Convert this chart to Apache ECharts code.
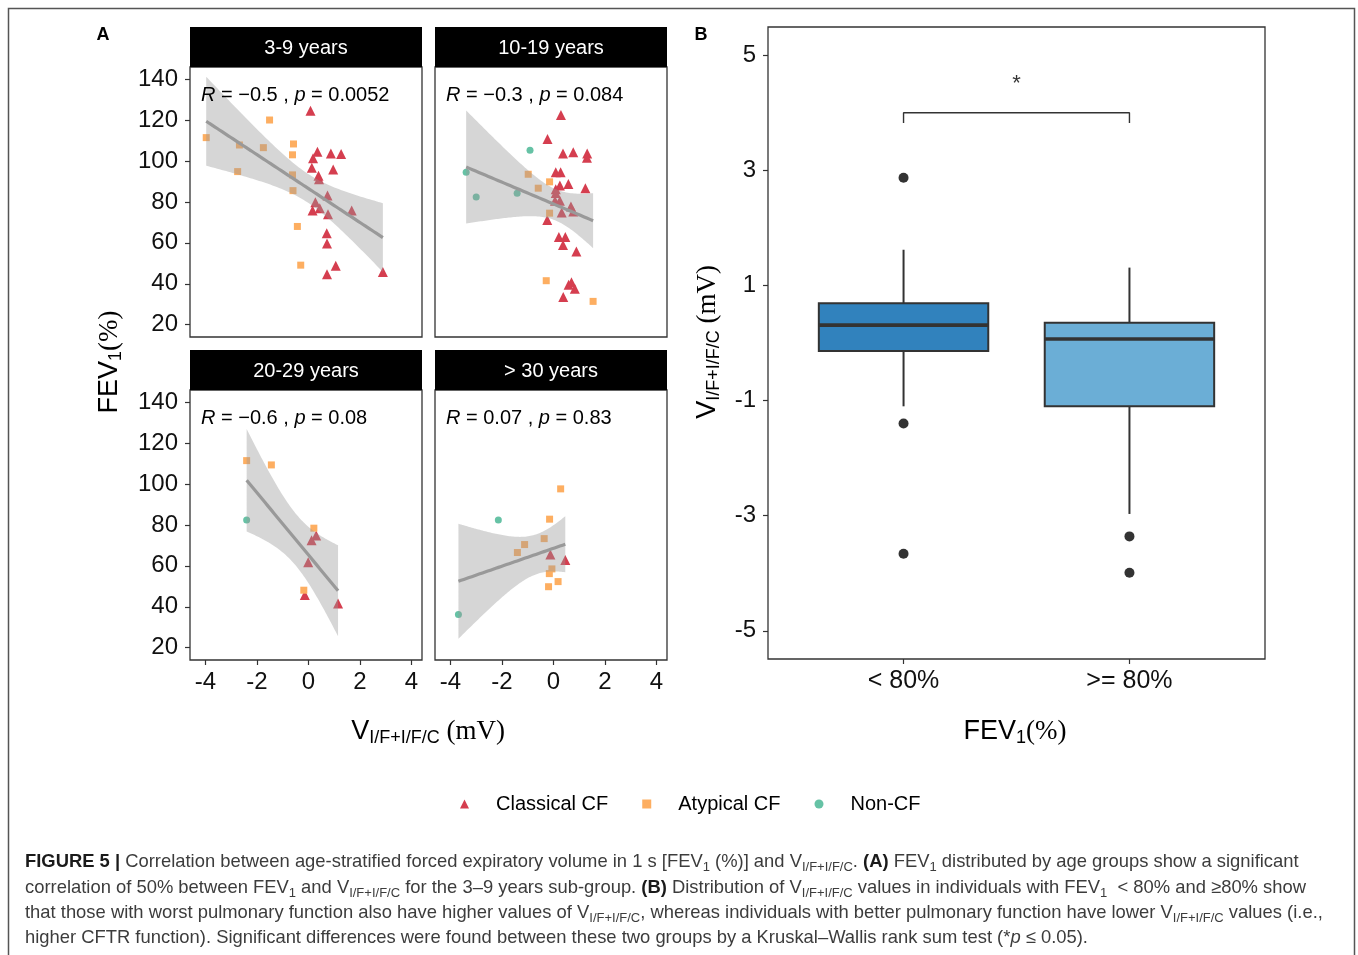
<!DOCTYPE html>
<html>
<head>
<meta charset="utf-8">
<script src="https://cdn.jsdelivr.net/npm/echarts@6/dist/echarts.min.js"></script>
<style>
html, body { margin: 0; padding: 0; background: #fff; }
#main { width: 1358px; height: 955px; }
</style>
</head>
<body>
<div id="main"></div>
<script>
// ---- data ----
const xTicks = [-4, -2, 0, 2, 4];
const yTicks = [20, 40, 60, 80, 100, 120, 140];
const panelNames = ['3-9 years', '10-19 years', '20-29 years', '> 30 years'];
const panelR = ['\u22120.5', '\u22120.3', '\u22120.6', '0.07'];
const panelP = ['0.0052', '0.084', '0.08', '0.83'];
const groupNames = ['Classical CF', 'Atypical CF', 'Non-CF'];

// [V I/F+I/F/C (mV), FEV1 (%)]
const classical_3_9 = [[0.08, 124.5], [0.35, 104.5], [0.87, 103.7], [1.27, 103.4], [0.18, 101.3], [0.13, 96.7], [0.96, 95.8], [0.39, 92.8], [0.41, 91.1], [0.74, 83.1], [0.27, 79.8], [0.44, 76.9], [0.16, 75.8], [0.76, 74.0], [1.68, 75.8], [0.71, 64.7], [0.72, 59.7], [1.06, 48.8], [0.72, 44.7], [2.89, 45.7]];
const atypical_3_9 = [[-1.51, 120.0], [-3.97, 111.4], [-2.68, 107.8], [-1.75, 106.5], [-0.58, 108.3], [-0.62, 103.0], [-2.75, 94.8], [-0.62, 93.2], [-0.60, 85.5], [-0.43, 68.0], [-0.30, 49.1]];
const nonCF_3_9 = [];

const classical_10_19 = [[0.29, 122.4], [-0.23, 110.7], [0.37, 103.7], [0.77, 104.2], [1.31, 103.7], [1.30, 101.6], [0.09, 94.5], [0.28, 94.5], [0.58, 88.8], [0.25, 88.0], [0.09, 86.2], [1.24, 86.7], [0.09, 84.4], [0.06, 80.6], [0.25, 80.6], [0.68, 77.7], [0.32, 74.8], [0.77, 75.3], [-0.24, 71.1], [0.21, 62.9], [0.46, 62.9], [0.37, 59.0], [0.89, 55.8], [0.59, 39.5], [0.70, 40.8], [0.83, 37.6], [0.38, 33.5]];
const atypical_10_19 = [[-0.98, 93.5], [-0.15, 89.8], [-0.59, 86.7], [-0.15, 74.5], [-0.28, 41.5], [1.54, 31.4]];
const nonCF_10_19 = [[-0.91, 105.2], [-3.39, 94.5], [-3.00, 82.4], [-1.41, 84.2]];

const classical_20_29 = [[0.30, 74.8], [0.12, 72.5], [-0.01, 61.8], [-0.14, 45.7], [1.15, 41.6]];
const atypical_20_29 = [[-2.40, 111.4], [-1.44, 109.3], [0.21, 78.4], [-0.18, 48.1]];
const nonCF_20_29 = [[-2.40, 82.4]];

const classical_30 = [[-0.12, 65.5], [0.46, 62.8]];
const atypical_30 = [[0.28, 97.6], [-0.15, 82.8], [-0.36, 73.3], [-1.12, 70.4], [-1.40, 66.5], [-0.06, 58.5], [-0.16, 56.2], [0.18, 52.3], [-0.19, 49.8]];
const nonCF_30 = [[-2.14, 82.4], [-3.69, 36.2]];

// panel B: [lower whisker, Q1, median, Q3, upper whisker]
const boxCategories = ['< 80%', '>= 80%'];
const boxStats = [[-1.10, -0.14, 0.31, 0.69, 1.62], [-2.97, -1.10, 0.07, 0.35, 1.31]];
const boxOutliers = [[2.87, -1.40, -3.66], [-3.36, -3.99]];
const boxTicks = [-5, -3, -1, 1, 3, 5];

// ---- styling ----
const SANS = 'Liberation Sans, Arial, Helvetica, sans-serif';
const SERIF = 'Liberation Serif, Times New Roman, serif';
const groupColors = ['#D53E4F', '#FDAE61', '#66C2A5'];
const groupSymbols = ['triangle', 'rect', 'circle'];
const groupSizes = [10, 7, 7];
const boxColors = ['#3182BD', '#6BAED6'];

const panels = [
  [classical_3_9, atypical_3_9, nonCF_3_9],
  [classical_10_19, atypical_10_19, nonCF_10_19],
  [classical_20_29, atypical_20_29, nonCF_20_29],
  [classical_30, atypical_30, nonCF_30]
];
const panelPos = [[190, 67], [435, 67], [190, 390], [435, 390]];

// t quantile (97.5%) by Cornish-Fisher expansion
function tQuantile975 (df) {
  const z = 1.959964;
  const g1 = (z ** 3 + z) / 4;
  const g2 = (5 * z ** 5 + 16 * z ** 3 + 3 * z) / 96;
  const g3 = (3 * z ** 7 + 19 * z ** 5 + 17 * z ** 3 - 15 * z) / 384;
  return z + g1 / df + g2 / df ** 2 + g3 / df ** 3;
}

// linear fit with 95% confidence band, like geom_smooth(method = 'lm')
function fitLm (points) {
  const n = points.length;
  let mx = 0, my = 0;
  points.forEach(p => { mx += p[0]; my += p[1] });
  mx /= n; my /= n;
  let sxx = 0, sxy = 0;
  points.forEach(p => { sxx += (p[0] - mx) ** 2; sxy += (p[0] - mx) * (p[1] - my) });
  const b = sxy / sxx;
  const a = my - b * mx;
  let sse = 0;
  points.forEach(p => { sse += (p[1] - a - b * p[0]) ** 2 });
  const s = Math.sqrt(sse / (n - 2));
  const t = tQuantile975(n - 2);
  const xs = points.map(p => p[0]);
  const x0 = Math.min(...xs), x1 = Math.max(...xs);
  const line = [], upper = [], lower = [];
  for (let i = 0; i <= 80; i++) {
    const x = x0 + (x1 - x0) * i / 80;
    const y = a + b * x;
    const se = s * Math.sqrt(1 / n + (x - mx) ** 2 / sxx);
    line.push([x, y]);
    upper.push([x, y + t * se]);
    lower.push([x, y - t * se]);
  }
  return { line, upper, lower };
}

const grid = [], xAxis = [], yAxis = [], series = [], graphic = [];
const tickStyle = { color: '#333', width: 1.2 };

panels.forEach((groups, i) => {
  const bottom = i >= 2;
  const left = i % 2 === 0;
  grid.push({ left: panelPos[i][0], top: panelPos[i][1], width: 232, height: 270, show: true, borderColor: '#333', borderWidth: 1.3, backgroundColor: '#fff', outerBoundsMode: 'none' });
  xAxis.push({
    gridIndex: i, type: 'value', min: -4.6, max: 4.41,
    axisLine: { show: false, onZero: false }, splitLine: { show: false },
    axisTick: { show: bottom, customValues: xTicks, length: 5, lineStyle: tickStyle },
    axisLabel: { show: bottom, customValues: xTicks, fontSize: 24, fontFamily: SANS, color: '#111', margin: 10 }
  });
  yAxis.push({
    gridIndex: i, type: 'value', min: 14, max: 145.9,
    axisLine: { show: false, onZero: false }, splitLine: { show: false },
    axisTick: { show: left, customValues: yTicks, length: 5, lineStyle: tickStyle },
    axisLabel: { show: left, customValues: yTicks, fontSize: 24, fontFamily: SANS, color: '#111', margin: 12 }
  });
  groups.forEach((pts, g) => {
    series.push({
      type: 'scatter', name: groupNames[g], xAxisIndex: i, yAxisIndex: i, data: pts,
      symbol: groupSymbols[g], symbolSize: groupSizes[g], itemStyle: { color: groupColors[g], opacity: 1 },
      z: 2, silent: true
    });
  });
  const fit = fitLm([].concat(...groups));
  series.push({
    type: 'custom', xAxisIndex: i, yAxisIndex: i, clip: true, z: 3, silent: true,
    data: [[0, 80]],
    renderItem: (params, api) => {
      const pts = fit.upper.concat(fit.lower.slice().reverse()).map(p => api.coord(p));
      return { type: 'polygon', shape: { points: pts }, style: { fill: 'rgba(153,153,153,0.4)' } };
    }
  });
  series.push({
    type: 'line', xAxisIndex: i, yAxisIndex: i, data: fit.line, symbol: 'none',
    lineStyle: { color: '#999', width: 3.2 }, z: 4, silent: true
  });

  // facet strip and correlation text
  graphic.push({ type: 'rect', shape: { x: panelPos[i][0], y: panelPos[i][1] - 40, width: 232, height: 40 }, style: { fill: '#000' } });
  graphic.push({ type: 'text', x: panelPos[i][0] + 116, y: panelPos[i][1] - 19, style: { text: panelNames[i], fontSize: 20, fontFamily: SANS, fill: '#fff', align: 'center', verticalAlign: 'middle' } });
  graphic.push({
    type: 'text', x: panelPos[i][0] + 11, y: panelPos[i][1] + 28, z: 10,
    style: {
      text: '{i|R}{n| = ' + panelR[i] + ' , }{i|p}{n| = ' + panelP[i] + '}',
      fontSize: 20, fontFamily: SANS, fill: '#000', align: 'left', verticalAlign: 'middle',
      rich: {
        i: { fontSize: 20, fontFamily: SANS, fontStyle: 'italic', fill: '#000' },
        n: { fontSize: 20, fontFamily: SANS, fill: '#000' }
      }
    }
  });
});

// ---- panel B ----
const bIdx = 4;
grid.push({ left: 768, top: 27, width: 497, height: 632, show: true, borderColor: '#333', borderWidth: 1.3, outerBoundsMode: 'none' });
xAxis.push({
  gridIndex: bIdx, type: 'value', min: 0.4, max: 2.6,
  axisLine: { show: false, onZero: false }, splitLine: { show: false },
  axisTick: { customValues: [1, 2], length: 5, lineStyle: tickStyle },
  axisLabel: { customValues: [1, 2], formatter: v => boxCategories[Math.round(v) - 1], fontSize: 25, fontFamily: SANS, color: '#111', margin: 10 }
});
yAxis.push({
  gridIndex: bIdx, type: 'value', min: -5.49, max: 5.49,
  axisLine: { show: false, onZero: false }, splitLine: { show: false },
  axisTick: { customValues: boxTicks, length: 5, lineStyle: tickStyle },
  axisLabel: { customValues: boxTicks, fontSize: 24, fontFamily: SANS, color: '#111', margin: 12 }
});
series.push({
  type: 'custom', xAxisIndex: bIdx, yAxisIndex: bIdx, silent: true, z: 3,
  data: boxStats.map((s, k) => ({ value: [k + 1].concat(s), itemStyle: { color: boxColors[k] } })),
  encode: { x: 0, y: [1, 2, 3, 4, 5] },
  renderItem: (params, api) => {
    const x = api.value(0);
    const lo = api.coord([x, api.value(1)]);
    const q1 = api.coord([x, api.value(2)]);
    const md = api.coord([x, api.value(3)]);
    const q3 = api.coord([x, api.value(4)]);
    const hi = api.coord([x, api.value(5)]);
    const hw = api.size([0.75, 0])[0] / 2;
    const st = { stroke: '#333', lineWidth: 2 };
    return {
      type: 'group',
      children: [
        { type: 'line', shape: { x1: hi[0], y1: hi[1], x2: q3[0], y2: q3[1] }, style: st },
        { type: 'line', shape: { x1: q1[0], y1: q1[1], x2: lo[0], y2: lo[1] }, style: st },
        { type: 'rect', shape: { x: q3[0] - hw, y: q3[1], width: 2 * hw, height: q1[1] - q3[1] }, style: { fill: api.visual('color'), stroke: '#333', lineWidth: 2 } },
        { type: 'line', shape: { x1: md[0] - hw, y1: md[1], x2: md[0] + hw, y2: md[1] }, style: { stroke: '#333', lineWidth: 3.6 } }
      ]
    };
  }
});
series.push({
  type: 'scatter', xAxisIndex: bIdx, yAxisIndex: bIdx, silent: true, z: 4,
  data: [].concat(...boxOutliers.map((arr, k) => arr.map(v => [k + 1, v]))),
  symbol: 'circle', symbolSize: 10, itemStyle: { color: '#333', opacity: 1 }
});
// significance bracket
const bracketY = 4.0, bracketTip = 3.82, starY = 4.5;
series.push({
  type: 'line', xAxisIndex: bIdx, yAxisIndex: bIdx, silent: true, symbol: 'none', z: 4,
  data: [[1, bracketTip], [1, bracketY], [2, bracketY], [2, bracketTip]],
  lineStyle: { color: '#333', width: 1.4 }
});
series.push({
  type: 'scatter', xAxisIndex: bIdx, yAxisIndex: bIdx, silent: true, symbolSize: 0,
  data: [[1.5, starY]],
  label: { show: true, position: 'inside', formatter: '*', fontSize: 22, fontFamily: SANS, color: '#000' }
});

// ---- text: panel letters, axis titles, caption ----
graphic.push({ type: 'text', x: 103, y: 35, style: { text: 'A', fontSize: 18, fontWeight: 'bold', fontFamily: SANS, fill: '#000', align: 'center', verticalAlign: 'middle' } });
graphic.push({ type: 'text', x: 701, y: 35, style: { text: 'B', fontSize: 18, fontWeight: 'bold', fontFamily: SANS, fill: '#000', align: 'center', verticalAlign: 'middle' } });

const titleRich = {
  m: { fontSize: 27, fontFamily: SANS, fill: '#000' },
  s: { fontSize: 18, fontFamily: SANS, fill: '#000', verticalAlign: 'bottom', height: 22, lineHeight: 10 },
  r: { fontSize: 27, fontFamily: SERIF, fill: '#000' }
};
const vTitle = '{m|V}{s|I/F+I/F/C}{r| (mV)}';
const fevTitle = '{m|FEV}{s|1}{r|(%)}';
function titleText (x, y, text, rotation) {
  return {
    type: 'text', x, y, rotation: rotation || 0,
    style: { text, fontSize: 27, lineHeight: 34, fontFamily: SANS, fill: '#000', align: 'center', verticalAlign: 'middle', rich: titleRich }
  };
}
graphic.push(titleText(428, 732, vTitle));
graphic.push(titleText(110, 362, fevTitle, Math.PI / 2));
graphic.push(titleText(1015, 732, fevTitle));
graphic.push(titleText(708, 342, vTitle, Math.PI / 2));

const CAP = 18.4;
const capRich = {
  b: { fontSize: CAP, fontFamily: SANS, fontWeight: 'bold', fill: '#1a1a1a' },
  n: { fontSize: CAP, fontFamily: SANS, fill: '#3c3c3c' },
  i: { fontSize: CAP, fontFamily: SANS, fontStyle: 'italic', fill: '#3c3c3c' },
  s: { fontSize: 13, fontFamily: SANS, fill: '#3c3c3c', verticalAlign: 'bottom', height: 13, lineHeight: 10 }
};
const captionLines = [
  '{b|FIGURE 5 |}{n| Correlation between age-stratified forced expiratory volume in 1 s [FEV}{s|1}{n| (%)] and V}{s|I/F+I/F/C}{n|. }{b|(A)}{n| FEV}{s|1}{n| distributed by age groups show a significant}',
  '{n|correlation of 50% between FEV}{s|1}{n| and V}{s|I/F+I/F/C}{n| for the 3\u20139 years sub-group. }{b|(B)}{n| Distribution of V}{s|I/F+I/F/C}{n| values in individuals with FEV}{s|1}{n|  < 80% and \u226580% show}',
  '{n|that those with worst pulmonary function also have higher values of V}{s|I/F+I/F/C}{n|, whereas individuals with better pulmonary function have lower V}{s|I/F+I/F/C}{n| values (i.e.,}',
  '{n|higher CFTR function). Significant differences were found between these two groups by a Kruskal\u2013Wallis rank sum test (*}{i|p}{n| \u2264 0.05).}'
];
const captionY = [862, 888, 913, 938];
captionLines.forEach((t, k) => {
  graphic.push({
    type: 'text', x: 25, y: captionY[k],
    style: { text: t, fontSize: CAP, lineHeight: 23, fontFamily: SANS, fill: '#3c3c3c', align: 'left', verticalAlign: 'middle', rich: capRich }
  });
});

// outer frame
graphic.push({ type: 'rect', shape: { x: 8.5, y: 8.5, width: 1346, height: 1000 }, style: { fill: 'none', stroke: '#555', lineWidth: 1.5 }, silent: true });

const myChart = echarts.init(document.getElementById('main'), null, { renderer: 'canvas' });
myChart.setOption({
  animation: false,
  backgroundColor: '#fff',
  grid, xAxis, yAxis, series, graphic,
  legend: {
    data: groupNames, left: 455, top: 789, itemWidth: 9, itemHeight: 9, itemGap: 34,
    selectedMode: false,
    textStyle: { fontSize: 20, fontFamily: SANS, color: '#000', padding: [0, 0, 0, 22] }
  }
});
</script>
</body>
</html>
